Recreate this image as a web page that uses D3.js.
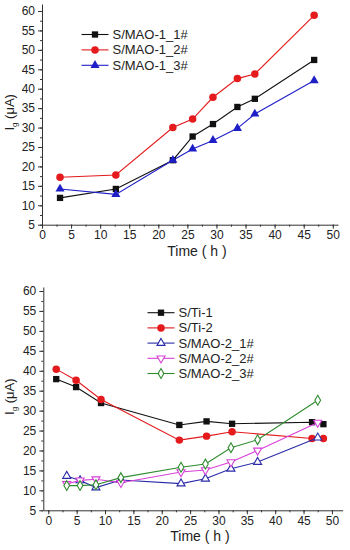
<!DOCTYPE html>
<html>
<head>
<meta charset="utf-8">
<script src="https://cdn.jsdelivr.net/npm/d3@7"></script>
<style>
  body { margin: 0; background: #fff; }
  svg text { font-family: Arial, "Liberation Sans", sans-serif; fill: #222; }
</style>
</head>
<body>
<div id="chart"></div>
<script>
// Top panel data
const timeTop = [3.1, 12.7, 22.5, 25.9, 29.4, 33.6, 36.6, 46.8];
const mao1_1 = [11.9, 14.2, 21.6, 27.7, 30.9, 35.3, 37.4, 47.4];
const mao1_2 = [17.2, 17.8, 30.0, 32.2, 37.8, 42.6, 43.8, 58.9];
const mao1_3 = [14.2, 12.8, 21.6, 24.5, 26.7, 29.8, 33.5, 42.1];

// Bottom panel data
const timeTi = [1.4, 4.9, 9.3, 23.1, 27.9, 32.4, 46.5, 48.5];
const ti1 = [37.9, 35.9, 31.9, 26.4, 27.3, 26.7, 27.1, 26.6];
const ti2 = [40.4, 37.6, 32.8, 22.6, 23.6, 24.7, 23.0, 23.0];
const timeMao2 = [3.25, 5.6, 8.4, 12.8, 23.4, 27.7, 32.2, 36.9, 47.5];
const mao2_1 = [13.6, 12.5, 10.7, 12.6, 11.7, 12.9, 15.4, 17.1, 23.2];
const mao2_2 = [11.6, 12.5, 12.8, 11.9, 14.6, 15.1, 17.1, 20.0, 27.0];
const mao2_3 = [11.2, 11.2, 11.4, 13.2, 15.8, 16.6, 20.7, 22.7, 32.6];

const xTicks = [0, 5, 10, 15, 20, 25, 30, 35, 40, 45, 50];
const yTicks = [5, 10, 15, 20, 25, 30, 35, 40, 45, 50, 55, 60];

const svg = d3.select("#chart")
    .append("svg")
    .attr("width", 350)
    .attr("height", 550);

const sym = {
    square: d3.symbol().type(d3.symbolSquare).size(40),
    circle: d3.symbol().type(d3.symbolCircle).size(44),
    triangle: d3.symbol().type(d3.symbolTriangle).size(36),
    hollowTri: d3.symbol().type(d3.symbolTriangle).size(28),
    diamond: d3.symbol().type(d3.symbolDiamond).size(28)
};

function markerPath(s) {
    if (s.shape === "down") return sym.hollowTri;
    if (s.shape === "triangle" && s.hollow) return sym.hollowTri;
    return sym[s.shape];
}

function drawPanel(cfg) {
    const x = d3.scaleLinear().domain(cfg.xDomain).range(cfg.xRange);
    const y = d3.scaleLinear().domain(cfg.yDomain).range(cfg.yRange);
    const g = svg.append("g");

    // y axis with minor ticks
    const yMinor = d3.range(5, cfg.yDomain[1], 2.5);
    g.append("g")
        .attr("transform", `translate(${cfg.xRange[0]},0)`)
        .call(d3.axisLeft(y).tickValues(yMinor).tickSize(2).tickFormat(""))
        .call(a => a.select(".domain").remove());
    g.append("g")
        .attr("transform", `translate(${cfg.xRange[0]},0)`)
        .call(d3.axisLeft(y).tickValues(yTicks).tickSize(4).tickSizeOuter(0).tickPadding(3))
        .call(a => a.selectAll("text").style("font-size", "12px"));

    // x axis with minor ticks
    const xMinor = d3.range(0, 51, 2.5);
    g.append("g")
        .attr("transform", `translate(0,${cfg.yRange[0]})`)
        .call(d3.axisBottom(x).tickValues(xMinor).tickSize(2).tickFormat(""))
        .call(a => a.select(".domain").remove());
    g.append("g")
        .attr("transform", `translate(0,${cfg.yRange[0]})`)
        .call(d3.axisBottom(x).tickValues(xTicks).tickSize(4).tickSizeOuter(0).tickPadding(2))
        .call(a => a.selectAll("text").style("font-size", "12px"));

    g.selectAll(".domain, .tick line").attr("stroke", "#333");

    // axis titles
    g.append("text")
        .attr("x", (cfg.xRange[0] + cfg.xRange[1]) / 2 + 7)
        .attr("y", cfg.yRange[0] + 31)
        .attr("text-anchor", "middle")
        .style("font-size", "14px")
        .text("Time ( h )");

    const yt = g.append("text")
        .attr("transform", `translate(14,${(cfg.yRange[0] + cfg.yRange[1]) / 2 - 2}) rotate(-90)`)
        .attr("text-anchor", "middle")
        .style("font-size", "13px");
    yt.append("tspan").text("I");
    yt.append("tspan").attr("dy", 3).style("font-size", "8px").text("g");
    yt.append("tspan").attr("dy", -3).text(" (μA)");

    const line = d3.line().x(d => x(d[0])).y(d => y(d[1]));

    cfg.series.forEach(s => {
        const pts = s.t.map((t, i) => [t, s.v[i]]);
        g.append("path")
            .datum(pts)
            .attr("fill", "none")
            .attr("stroke", s.color)
            .attr("stroke-width", 1.1)
            .attr("d", line);
        g.selectAll(null)
            .data(pts)
            .enter()
            .append("path")
            .attr("transform", d => `translate(${x(d[0])},${y(d[1])})${s.shape === "down" ? " rotate(180)" : ""}`)
            .attr("d", markerPath(s))
            .attr("fill", s.hollow ? "#fff" : s.color)
            .attr("stroke", s.color)
            .attr("stroke-width", s.hollow ? 1.1 : 0);
    });

    // legend
    cfg.series.forEach((s, i) => {
        const ly = cfg.legend.y + i * cfg.legend.dy;
        const lx = cfg.legend.x;
        g.append("line")
            .attr("x1", lx).attr("x2", lx + 27)
            .attr("y1", ly).attr("y2", ly)
            .attr("stroke", s.color)
            .attr("stroke-width", 1.1);
        g.append("path")
            .attr("transform", `translate(${lx + 13.5},${ly})${s.shape === "down" ? " rotate(180)" : ""}`)
            .attr("d", markerPath(s))
            .attr("fill", s.hollow ? "#fff" : s.color)
            .attr("stroke", s.color)
            .attr("stroke-width", s.hollow ? 1.1 : 0);
        g.append("text")
            .attr("x", lx + 31)
            .attr("y", ly + 4.5)
            .style("font-size", "13px")
            .text(s.name);
    });
}

drawPanel({
    xDomain: [0, 50.9], xRange: [42, 338],
    yDomain: [5, 61.8], yRange: [224.7, 4],
    legend: { x: 81.5, y: 34.5, dy: 15.4 },
    series: [
        { name: "S/MAO-1_1#", t: timeTop, v: mao1_1, color: "#111111", shape: "square" },
        { name: "S/MAO-1_2#", t: timeTop, v: mao1_2, color: "#e41a1c", shape: "circle" },
        { name: "S/MAO-1_3#", t: timeTop, v: mao1_3, color: "#1f1fc8", shape: "triangle" }
    ]
});

drawPanel({
    xDomain: [-0.88, 51.9], xRange: [43.3, 342.7],
    yDomain: [5, 61], yRange: [510.3, 287],
    legend: { x: 147.5, y: 312.7, dy: 15.2 },
    series: [
        { name: "S/Ti-1", t: timeTi, v: ti1, color: "#111111", shape: "square" },
        { name: "S/Ti-2", t: timeTi, v: ti2, color: "#e41a1c", shape: "circle" },
        { name: "S/MAO-2_1#", t: timeMao2, v: mao2_1, color: "#2a2aa8", shape: "triangle", hollow: true },
        { name: "S/MAO-2_2#", t: timeMao2, v: mao2_2, color: "#d840d8", shape: "down", hollow: true },
        { name: "S/MAO-2_3#", t: timeMao2, v: mao2_3, color: "#2e8b2e", shape: "diamond", hollow: true }
    ]
});
</script>
</body>
</html>
